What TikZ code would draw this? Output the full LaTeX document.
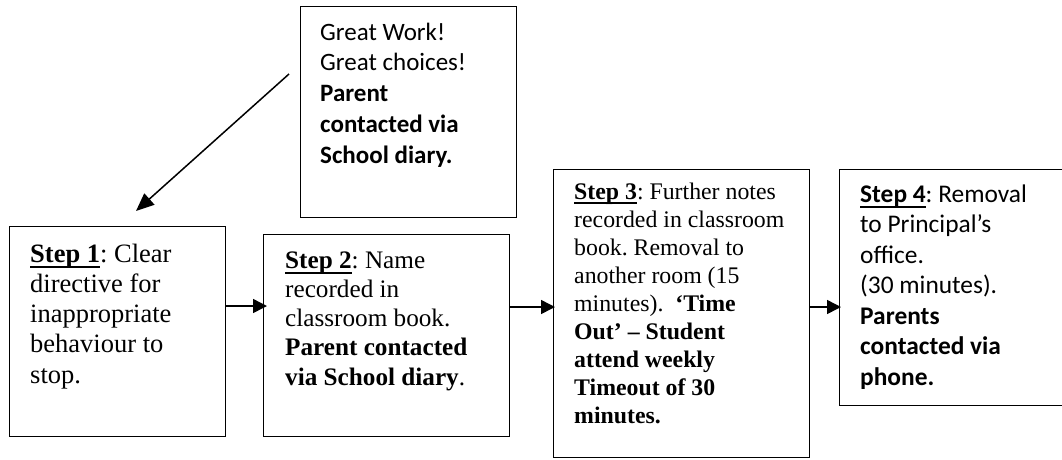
\documentclass[tikz,border=0pt]{standalone}
\usepackage{fontspec}
\newfontfamily\tnrfont{Liberation Serif}
\newfontfamily\calfont{Carlito}
\usetikzlibrary{arrows.meta}
\frenchspacing
\newcommand\stepul[1]{\leavevmode\setbox0\hbox{#1}\rlap{\rule[-0.22em]{\wd0}{0.075em}}\box0}
\tikzset{
  boxnode/.style 2 args={draw, line width=1.3pt, anchor=north west, inner sep=0pt,
    minimum width=#1, minimum height=#2},
  txt/.style={anchor=base west, inner sep=0pt},
  arr/.style={-{Triangle[length=14pt,width=14pt]}, line width=1.5pt},
  bigarr/.style={-{Triangle[length=18pt,width=15pt]}, line width=1.5pt}
}
\begin{document}
\begin{tikzpicture}[x=1pt,y=-1pt]
\useasboundingbox (0,0) rectangle (1062,459);
\fill[white] (0,0) rectangle (1062,459);
% boxes
\node[boxnode={216pt}{211pt}] (gw) at (300,6) {};
\node[boxnode={216pt}{210pt}] (s1) at (9,226) {};
\node[boxnode={246pt}{202pt}] (s2) at (263,234) {};
\node[boxnode={256pt}{288pt}] (s3) at (553,169) {};
\node[boxnode={240pt}{236pt}] (s4) at (839,169) {};
% texts
\node[txt] (tgw) at (320,40) {\parbox[t]{190pt}{\raggedright\frenchspacing\calfont\fontsize{25pt}{30.75pt}\selectfont
Great Work!\\
Great choices!\\
\textbf{Parent}\\
\textbf{contacted via}\\
\textbf{School diary.}}};
\node[txt] (t1) at (30,262) {\parbox[t]{190pt}{\raggedright\frenchspacing\tnrfont\fontsize{26.5pt}{30.25pt}\selectfont
\stepul{\textbf{Step 1}}: Clear\\
directive for\\
inappropriate\\
behaviour to\\
stop.}};
\node[txt] (t2) at (285,268) {\parbox[t]{220pt}{\raggedright\frenchspacing\tnrfont\fontsize{25.2pt}{29.25pt}\selectfont
\stepul{\textbf{Step 2}}: Name\\
recorded in\\
classroom book.\\
\textbf{Parent contacted}\\
\textbf{via School diary}.}};
\node[txt] (t3) at (574,199) {\parbox[t]{235pt}{\raggedright\frenchspacing\tnrfont\fontsize{23.8pt}{28pt}\selectfont
\stepul{\textbf{Step 3}}: Further notes\\
recorded in classroom\\
book. Removal to\\
another room (15\\
minutes).\ \ \textbf{‘Time}\\
\textbf{Out’ – Student}\\
\textbf{attend weekly}\\
\textbf{Timeout of 30}\\
\textbf{minutes.}}};
\node[txt] (t4) at (860,202) {\parbox[t]{200pt}{\raggedright\frenchspacing\calfont\fontsize{25.4pt}{30.5pt}\selectfont
\stepul{\textbf{Step 4}}: Removal\\
to Principal’s\\
office.\\
(30 minutes).\\
\textbf{Parents}\\
\textbf{contacted via}\\
\textbf{phone.}}};
% connectors
\draw[arr] (s1.east |- 0,306) -- ([xshift=4pt]s2.west |- 0,306);
\draw[arr] (s2.east |- 0,307) -- ([xshift=2pt]s3.west |- 0,307);
\draw[arr] (s3.east |- 0,307) -- ([xshift=2pt]s4.west |- 0,307);
\coordinate (gwout) at (289,74);
\coordinate (s1in) at (136,211);
\draw[bigarr] (gwout) -- (s1in);
\end{tikzpicture}
\end{document}
